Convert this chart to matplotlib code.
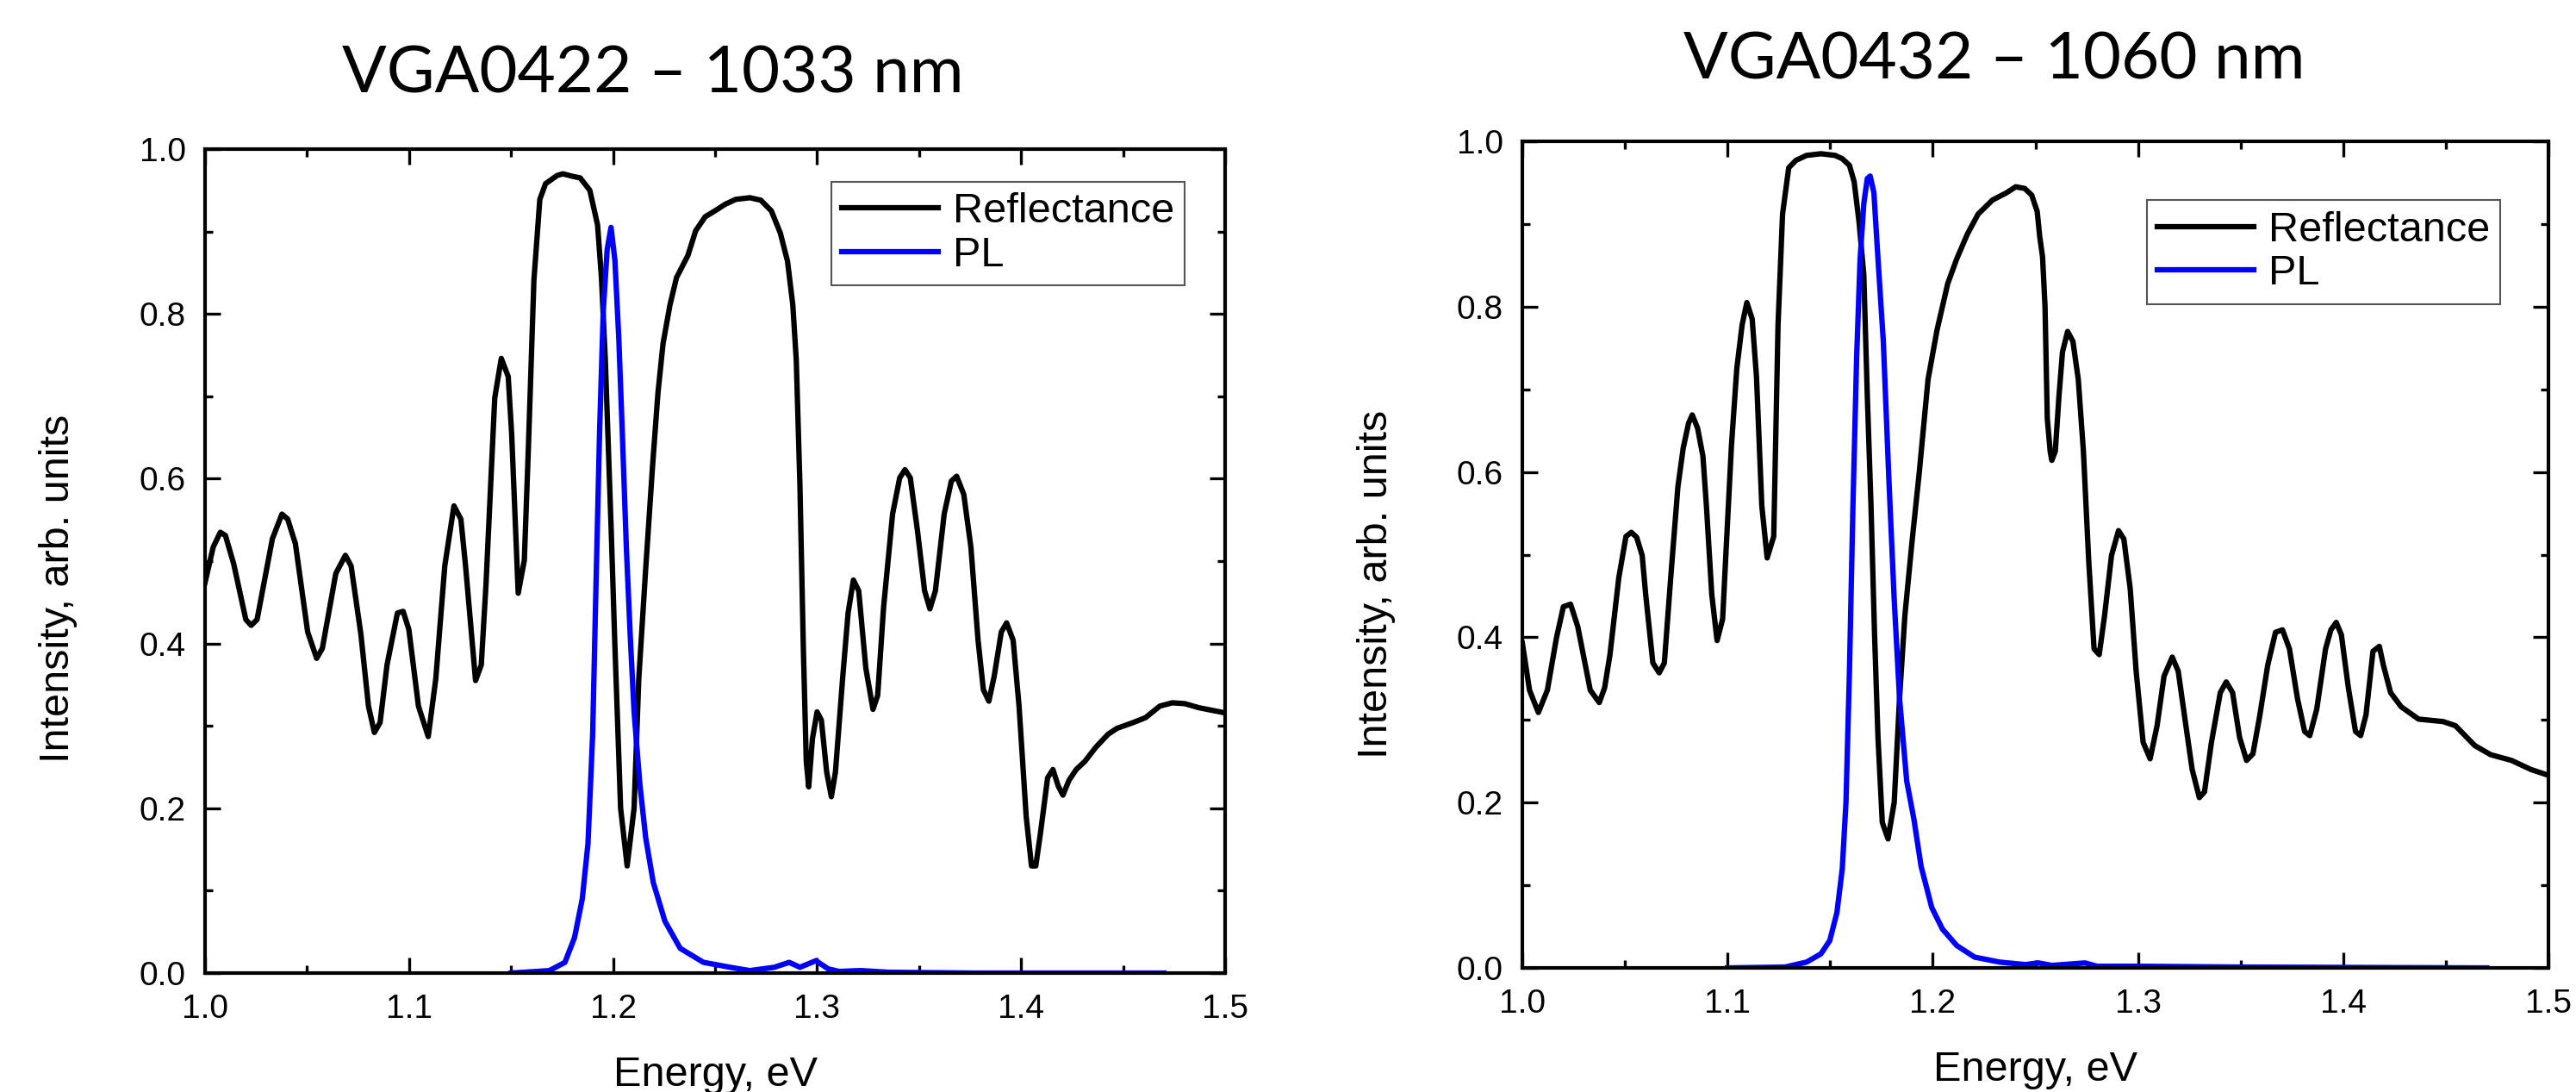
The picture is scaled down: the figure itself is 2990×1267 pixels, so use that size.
import matplotlib
matplotlib.use("Agg")
import matplotlib.pyplot as plt
from matplotlib.ticker import MultipleLocator

# ---- VGA0422 (1033 nm) ----
e_refl_422 = [1.000, 1.004, 1.0075, 1.010, 1.014, 1.020, 1.0226, 1.0255, 1.033, 1.0377,
              1.0405, 1.0443, 1.0503, 1.0547, 1.0575, 1.0641, 1.0688, 1.0716, 1.0764, 1.0801,
              1.083, 1.0858, 1.0892, 1.0943, 1.0971, 1.0999, 1.1046, 1.1094, 1.1131, 1.1175,
              1.122, 1.1254, 1.1277, 1.1326, 1.1354, 1.1377, 1.142, 1.1452, 1.1486, 1.1503,
              1.1535, 1.1565, 1.1584, 1.1612, 1.1641, 1.1669, 1.1726, 1.1754, 1.1801, 1.1839,
              1.1886, 1.1924, 1.1943, 1.1962, 1.199, 1.2009, 1.2037, 1.2069, 1.2103, 1.2126,
              1.216, 1.2194, 1.222, 1.2245, 1.2279, 1.2311, 1.2367, 1.2405, 1.2452, 1.2499,
              1.2549, 1.2601, 1.2671, 1.2724, 1.2776, 1.282, 1.2855, 1.2881, 1.2898, 1.2916,
              1.2933, 1.2947, 1.2959, 1.2977, 1.300, 1.3021, 1.3047, 1.307, 1.309, 1.3125,
              1.3152, 1.3178, 1.3204, 1.3239, 1.3274, 1.3297, 1.3326, 1.337, 1.3405, 1.3431,
              1.3457, 1.3492, 1.3527, 1.3553, 1.358, 1.3623, 1.3658, 1.3684, 1.3719, 1.3754,
              1.3789, 1.3815, 1.3842, 1.3868, 1.3903, 1.3929, 1.3961, 1.399, 1.4025, 1.4051,
              1.4072, 1.4095, 1.413, 1.4156, 1.4182, 1.4205, 1.4235, 1.427, 1.4313, 1.4366,
              1.4427, 1.447, 1.4549, 1.461, 1.468, 1.4741, 1.4802, 1.4872, 1.4995]
refl_422 = [0.474, 0.517, 0.535, 0.531, 0.497, 0.429, 0.422, 0.429, 0.527, 0.557,
            0.551, 0.521, 0.414, 0.382, 0.394, 0.485, 0.507, 0.494, 0.411, 0.324,
            0.292, 0.304, 0.374, 0.437, 0.439, 0.417, 0.324, 0.287, 0.357, 0.494,
            0.567, 0.551, 0.494, 0.355, 0.374, 0.471, 0.698, 0.746, 0.724, 0.654,
            0.461, 0.501, 0.631, 0.841, 0.939, 0.958, 0.968, 0.970, 0.967, 0.965,
            0.950, 0.908, 0.844, 0.744, 0.544, 0.397, 0.200, 0.130, 0.200, 0.357,
            0.491, 0.617, 0.704, 0.764, 0.811, 0.844, 0.871, 0.901, 0.918, 0.925,
            0.933, 0.939, 0.941, 0.938, 0.925, 0.898, 0.864, 0.811, 0.744, 0.591,
            0.391, 0.257, 0.226, 0.284, 0.317, 0.307, 0.244, 0.214, 0.244, 0.357,
            0.437, 0.477, 0.464, 0.370, 0.320, 0.337, 0.444, 0.557, 0.601, 0.611,
            0.601, 0.537, 0.464, 0.442, 0.464, 0.557, 0.597, 0.603, 0.581, 0.517,
            0.404, 0.344, 0.330, 0.360, 0.414, 0.425, 0.404, 0.324, 0.190, 0.130,
            0.130, 0.170, 0.237, 0.247, 0.227, 0.216, 0.234, 0.247, 0.257, 0.274,
            0.290, 0.297, 0.304, 0.310, 0.324, 0.328, 0.327, 0.322, 0.316]

e_pl_422 = [1.150, 1.1688, 1.1764, 1.1811, 1.1849, 1.1877, 1.190, 1.1915, 1.1934, 1.1952,
            1.1971, 1.199, 1.2009, 1.2028, 1.2046, 1.2065, 1.2084, 1.2103, 1.2131, 1.216,
            1.2197, 1.2254, 1.2329, 1.2443, 1.2574, 1.267, 1.279, 1.2863, 1.2916, 1.2994,
            1.3055, 1.3108, 1.3213, 1.335, 1.377, 1.470]
pl_422 = [0.0, 0.003, 0.013, 0.043, 0.090, 0.157, 0.290, 0.457, 0.658, 0.804,
          0.878, 0.905, 0.865, 0.771, 0.651, 0.517, 0.410, 0.317, 0.230, 0.164,
          0.110, 0.063, 0.030, 0.013, 0.007, 0.003, 0.007, 0.013, 0.007, 0.015,
          0.005, 0.002, 0.003, 0.001, 0.0, 0.0]

# ---- VGA0432 (1060 nm) ----
e_refl_432 = [1.000, 1.0035, 1.0078, 1.0122, 1.0166, 1.020, 1.0235, 1.027, 1.0305, 1.0331,
              1.0375, 1.0401, 1.0427, 1.047, 1.0505, 1.0531, 1.0557, 1.0584, 1.0601, 1.0636,
              1.0667, 1.0692, 1.0723, 1.0758, 1.0784, 1.081, 1.0828, 1.0854, 1.088, 1.0897,
              1.0923, 1.0949, 1.0976, 1.0993, 1.1019, 1.1045, 1.1071, 1.1094, 1.112, 1.1141,
              1.1167, 1.1193, 1.1225, 1.1246, 1.1268, 1.1298, 1.1333, 1.1385, 1.1455, 1.1524,
              1.1559, 1.1594, 1.1617, 1.1641, 1.1664, 1.1681, 1.1699, 1.1716, 1.1733, 1.1754,
              1.1782, 1.1812, 1.1838, 1.1864, 1.1899, 1.1934, 1.1977, 1.2021, 1.2073, 1.2117,
              1.2169, 1.2221, 1.2291, 1.2361, 1.2404, 1.2448, 1.2482, 1.2509, 1.2521, 1.2535,
              1.2547, 1.2558, 1.2572, 1.258, 1.2597, 1.2615, 1.2632, 1.2657, 1.2683, 1.2709,
              1.2734, 1.276, 1.2786, 1.2811, 1.2837, 1.2871, 1.2905, 1.2931, 1.2962, 1.2991,
              1.3025, 1.3059, 1.3093, 1.3127, 1.3167, 1.3196, 1.323, 1.3264, 1.3299, 1.3324,
              1.3358, 1.3401, 1.343, 1.3461, 1.3495, 1.3529, 1.356, 1.3594, 1.3632, 1.367,
              1.3704, 1.3738, 1.3777, 1.3812, 1.3837, 1.3871, 1.3914, 1.394, 1.3966, 1.3991,
              1.4025, 1.406, 1.4085, 1.4111, 1.4145, 1.4176, 1.4196, 1.4231, 1.4282, 1.4367,
              1.4487, 1.4547, 1.4641, 1.4718, 1.482, 1.4915, 1.500]
refl_432 = [0.393, 0.336, 0.309, 0.336, 0.399, 0.437, 0.440, 0.413, 0.369, 0.336,
            0.321, 0.339, 0.379, 0.472, 0.522, 0.527, 0.521, 0.499, 0.452, 0.369,
            0.357, 0.369, 0.472, 0.582, 0.629, 0.659, 0.669, 0.653, 0.619, 0.559,
            0.452, 0.396, 0.422, 0.506, 0.632, 0.725, 0.778, 0.805, 0.785, 0.715,
            0.559, 0.496, 0.522, 0.778, 0.912, 0.968, 0.977, 0.983, 0.985, 0.983,
            0.979, 0.971, 0.951, 0.902, 0.838, 0.692, 0.559, 0.406, 0.279, 0.176,
            0.156, 0.200, 0.326, 0.426, 0.516, 0.599, 0.712, 0.772, 0.828, 0.858,
            0.888, 0.912, 0.929, 0.938, 0.945, 0.943, 0.935, 0.915, 0.885, 0.860,
            0.800, 0.665, 0.625, 0.614, 0.625, 0.692, 0.745, 0.770, 0.758, 0.712,
            0.625, 0.492, 0.386, 0.379, 0.426, 0.499, 0.529, 0.519, 0.459, 0.359,
            0.273, 0.253, 0.293, 0.353, 0.376, 0.359, 0.299, 0.240, 0.206, 0.213,
            0.273, 0.333, 0.346, 0.333, 0.279, 0.251, 0.259, 0.306, 0.366, 0.406,
            0.409, 0.386, 0.326, 0.286, 0.281, 0.313, 0.386, 0.409, 0.418, 0.403,
            0.339, 0.286, 0.281, 0.306, 0.383, 0.389, 0.366, 0.333, 0.316, 0.301,
            0.298, 0.293, 0.269, 0.258, 0.251, 0.240, 0.233]

e_pl_432 = [1.100, 1.128, 1.1385, 1.1455, 1.1498, 1.1533, 1.1559, 1.1577, 1.1594, 1.1611,
            1.1629, 1.1646, 1.1664, 1.1681, 1.1695, 1.1713, 1.1733, 1.1759, 1.1786, 1.1812,
            1.1838, 1.1873, 1.1908, 1.1943, 1.1995, 1.2047, 1.2117, 1.2204, 1.2326, 1.245,
            1.2515, 1.258, 1.2742, 1.280, 1.300, 1.350, 1.470]
pl_432 = [0.0, 0.001, 0.007, 0.017, 0.033, 0.067, 0.120, 0.200, 0.359, 0.559,
          0.739, 0.858, 0.925, 0.955, 0.958, 0.938, 0.858, 0.758, 0.592, 0.446,
          0.326, 0.226, 0.180, 0.123, 0.073, 0.047, 0.027, 0.013, 0.007, 0.004,
          0.006, 0.003, 0.006, 0.002, 0.002, 0.001, 0.0]

W, H = 2990, 1267
fig = plt.figure(figsize=(W / 100, H / 100), dpi=100)

tick_font = 'Liberation Sans'
lw_curve = 4.5


def style_axes(ax):
    ax.set_xlim(1.0, 1.5)
    ax.set_ylim(0.0, 1.0)
    ax.xaxis.set_major_locator(MultipleLocator(0.1))
    ax.xaxis.set_minor_locator(MultipleLocator(0.05))
    ax.yaxis.set_major_locator(MultipleLocator(0.2))
    ax.yaxis.set_minor_locator(MultipleLocator(0.1))
    ax.tick_params(which='both', direction='in', top=True, right=True, width=2.4)
    ax.tick_params(which='major', length=13)
    ax.tick_params(which='minor', length=6.5)
    ax.tick_params(axis='x', which='major', pad=17, labelsize=28)
    ax.tick_params(axis='y', which='major', pad=16, labelsize=28)
    for lab in ax.get_xticklabels() + ax.get_yticklabels():
        lab.set_fontfamily(tick_font)
    for sp in ax.spines.values():
        sp.set_linewidth(3.0)


panels = [
    # axes rect, data, legend anchor, title pos, ylabel pos, xlabel pos
    ([238 / W, 1 - 1129 / H, 1184 / W, 956 / H],
     e_refl_422, refl_422, e_pl_422, pl_422, (0.614, 0.960),
     'VGA0422 – 1033 nm', (758, 107), (68, 683), (831, 1260)),
    ([1767 / W, 1 - 1123 / H, 1191 / W, 959 / H],
     e_refl_432, refl_432, e_pl_432, pl_432, (0.6087, 0.9286),
     'VGA0432 – 1060 nm', (2315, 92), (1598, 678), (2362, 1254)),
]

for rect, er, r, ep, p, leg_xy, title, tpos, ypos, xpos in panels:
    ax = fig.add_axes(rect)
    ax.plot(er, r, color='black', lw=lw_curve, label='Reflectance')
    ax.plot(ep, p, color='#0000ff', lw=lw_curve, label='PL')
    style_axes(ax)
    leg = ax.legend(loc='upper left', bbox_to_anchor=leg_xy, borderaxespad=0,
                    prop={'family': tick_font, 'size': 35}, fancybox=False,
                    framealpha=1, edgecolor='#555555', handlelength=2.3,
                    handletextpad=0.35, borderpad=0.25, labelspacing=0.12)
    leg.get_frame().set_linewidth(1.5)
    fig.text(tpos[0] / W, 1 - tpos[1] / H, title, ha='center', va='baseline',
             fontsize=55, family='Lato')
    fig.text(ypos[0] / W, 1 - ypos[1] / H, 'Intensity, arb. units', rotation=90,
             ha='center', va='center', fontsize=35, family=tick_font)
    fig.text(xpos[0] / W, 1 - xpos[1] / H, 'Energy, eV', ha='center', va='baseline',
             fontsize=35, family=tick_font)

fig.savefig('out.png', dpi=100)
